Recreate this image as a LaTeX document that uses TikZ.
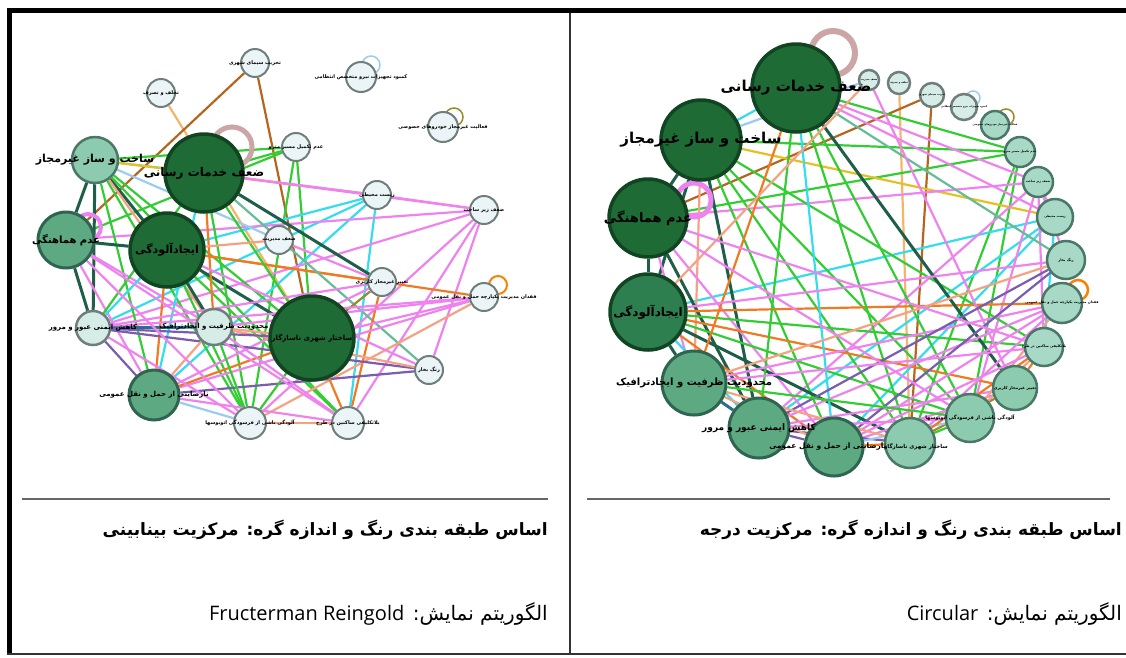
\documentclass[tikz,border=0pt]{standalone}
\usepackage{fontspec}
\usepackage{xcolor}
\usepackage{tikz}
\usetikzlibrary{backgrounds}
\TeXXeTstate=1
\newfontfamily\arabicfont[Script=Arabic]{DejaVu Sans}
\newfontfamily\latinfont{Open Sans}
\newcommand{\fa}[1]{{\arabicfont\bfseries\beginR #1\endR}}
\newcommand{\fs}[1]{\fontsize{#1}{#1}\selectfont}
\definecolor{darkfill}{HTML}{1E6B36}
\definecolor{darkline}{HTML}{114522}
\definecolor{dmidfill}{HTML}{2E7F4F}
\definecolor{midfill}{HTML}{5DAA82}
\definecolor{midline}{HTML}{2F6550}
\definecolor{lightfill}{HTML}{8DCBAF}
\definecolor{lightline}{HTML}{4A7768}
\definecolor{mintfill}{HTML}{A8D9C6}
\definecolor{palefill}{HTML}{D5ECE7}
\definecolor{whitefill}{HTML}{EBF5F7}
\definecolor{paleline}{HTML}{6F7E7A}
\definecolor{cpink}{HTML}{EE82EE}
\definecolor{cgreen}{HTML}{33CC33}
\definecolor{ccyan}{HTML}{33DDEE}
\definecolor{csalmon}{HTML}{F4A282}
\definecolor{corange}{HTML}{F07A22}
\definecolor{clorange}{HTML}{F5B46B}
\definecolor{cbrown}{HTML}{B5651D}
\definecolor{cdark}{HTML}{1F5F4A}
\definecolor{cpurple}{HTML}{7A5CB0}
\definecolor{cblue}{HTML}{99CCEE}
\definecolor{cteal}{HTML}{66BB99}
\definecolor{cyellow}{HTML}{E6C020}
\definecolor{colive}{HTML}{9A8A2A}
\definecolor{cdblue}{HTML}{2A6F8F}

\begin{document}
\begin{tikzpicture}[x=1pt,y=-1pt,
  gnode/.style={circle,inner sep=0pt,line width=2.5pt},
  ndark/.style={gnode,fill=darkfill,draw=darkline,line width=3.5pt},
  ndmid/.style={gnode,fill=dmidfill,draw=darkline,line width=3.5pt},
  nmid/.style={gnode,fill=midfill,draw=midline,line width=3pt},
  nlight/.style={gnode,fill=lightfill,draw=lightline},
  nmint/.style={gnode,fill=mintfill,draw=lightline},
  npale/.style={gnode,fill=palefill,draw=paleline},
  nwhite/.style={gnode,fill=whitefill,draw=paleline,line width=2pt},
  lbl/.style={inner sep=0pt,font=\fs{#1}},
  edge/.style={line width=2.2pt},
  epink/.style={edge,cpink}, egreen/.style={edge,cgreen},
  ecyan/.style={edge,ccyan}, esalmon/.style={edge,csalmon},
  eorange/.style={edge,corange}, elorange/.style={edge,clorange},
  ebrown/.style={edge,cbrown}, edark/.style={edge,cdark,line width=3pt},
  epurple/.style={edge,cpurple}, eblue/.style={edge,cblue},
  eteal/.style={edge,cteal}, eyellow/.style={edge,cyellow},
  eolive/.style={edge,colive}, edblue/.style={edge,cdblue,line width=3pt},
  eloop/.style={line width=#1}]
\useasboundingbox (0,0) rectangle (1126,657);
\fill[black] (7,8) rectangle (1126,13);
\fill[black] (7,8) rectangle (12,655);
\draw[line width=1.5pt,black!80] (7,654) -- (1126,654);
\draw[line width=2pt,black!80] (570,13) -- (570,654);
\draw[line width=2pt,black!60] (22,499) -- (548,499);
\draw[line width=2pt,black!60] (587,499) -- (1110,499);

\node[ndark,minimum size=78] (lA) at (204,173) {};
\node[nlight,minimum size=46] (lB) at (95,160) {};
\node[nmid,minimum size=56] (lC) at (66,240) {};
\node[ndark,minimum size=74] (lD) at (167,250) {};
\node[npale,minimum size=34] (lE) at (93,328) {};
\node[npale,minimum size=36] (lF) at (214,327) {};
\node[ndark,minimum size=84] (lG) at (312,338) {};
\node[nmid,minimum size=50] (lH) at (154,395) {};
\node[nwhite,minimum size=32] (lI) at (250,423) {};
\node[nwhite,minimum size=32] (lJ) at (348,423) {};
\node[nwhite,minimum size=28] (lK) at (429,370) {};
\node[nwhite,minimum size=28] (lL) at (382,282) {};
\node[nwhite,minimum size=28] (lM) at (484,297) {};
\node[nwhite,minimum size=28] (lN) at (484,210) {};
\node[nwhite,minimum size=28] (lO) at (377,195) {};
\node[nwhite,minimum size=28] (lP) at (279,240) {};
\node[nwhite,minimum size=28] (lQ) at (296,147) {};
\node[nwhite,minimum size=28] (lR) at (161,93) {};
\node[nwhite,minimum size=28] (lS) at (255,63) {};
\node[nwhite,minimum size=30] (lT) at (361,77) {};
\node[nwhite,minimum size=30] (lU) at (443,127) {};

\node[ndark,minimum size=88] (rA) at (796,88) {};
\node[ndark,minimum size=80] (rB) at (701,140) {};
\node[ndark,minimum size=78] (rC) at (648,218) {};
\node[ndmid,minimum size=76] (rD) at (648,312) {};
\node[nmid,minimum size=64] (rF) at (694,383) {};
\node[nmid,minimum size=60] (rE) at (759,428) {};
\node[nmid,minimum size=58] (rH) at (834,447) {};
\node[nlight,minimum size=50] (rG) at (910,443) {};
\node[nlight,minimum size=48] (rI) at (970,418) {};
\node[nlight,minimum size=44] (rL) at (1015,388) {};
\node[nmint,minimum size=38] (rJ) at (1044,347) {};
\node[nmint,minimum size=40] (rM) at (1062,303) {};
\node[nmint,minimum size=38] (rK) at (1066,260) {};
\node[nmint,minimum size=36] (rO) at (1055,217) {};
\node[nmint,minimum size=30] (rN) at (1038,182) {};
\node[nmint,minimum size=30] (rQ) at (1020,152) {};
\node[nmint,minimum size=28] (rU) at (995,125) {};
\node[npale,minimum size=26] (rT) at (964,107) {};
\node[npale,minimum size=24] (rS) at (932,95) {};
\node[npale,minimum size=22] (rR) at (899,83) {};
\node[npale,minimum size=20] (rP) at (869,80) {};

\begin{scope}[on background layer]
\foreach \g in {l,r} {
  \foreach \a/\b/\c in {R/G/elorange, S/C/ebrown, S/G/ebrown, B/A/ecyan,
    B/Q/egreen, A/Q/egreen, C/Q/egreen, Q/G/egreen, Q/I/egreen, B/O/eyellow,
    A/O/epink, A/N/epink, O/N/epink, O/D/ecyan, O/H/ecyan, O/J/ecyan,
    O/E/ecyan, N/C/epink, N/K/epink, N/J/epink, N/I/epink, N/E/epink,
    B/C/edark, B/D/edark, B/E/edark, B/H/egreen, B/I/egreen, B/G/egreen,
    B/F/esalmon, B/J/egreen, B/P/eblue, C/D/edark, C/E/edark, C/H/epink,
    C/F/epink, D/L/eorange, D/M/eorange, D/G/edark, D/F/edark, D/E/ecyan,
    D/H/eorange, D/I/egreen, D/J/egreen, A/G/egreen, A/F/eorange, A/H/ecyan,
    A/I/egreen, A/L/edark, A/K/eteal, A/E/egreen, P/L/epink, P/D/esalmon,
    L/G/eolive, L/J/eorange, L/E/epink, L/H/epink, M/H/epink, M/F/epink,
    M/E/epink, M/G/epink, M/I/esalmon, K/E/epurple, K/H/epurple, K/F/esalmon,
    E/F/edblue, E/G/epurple, E/H/epurple, H/I/eblue, H/G/eorange, H/J/epink,
    F/H/esalmon, F/G/esalmon, F/I/egreen, G/J/eorange, G/I/egreen, I/J/esalmon,
    C/I/epink, C/J/epink, D/K/epink, F/J/epink, E/I/epink} {
    \draw[\c] (\g\a) -- (\g\b);
  }
}
\draw[eloop=5pt,draw=pink!60!gray] ([shift={(28,-26)}]lA.center) circle (20);
\draw[eloop=4pt,draw=cpink] ([shift={(22,-13)}]lC.center) circle (13);
\draw[eloop=1.5pt,draw=cblue] ([shift={(10,-12)}]lT.center) circle (9);
\draw[eloop=1.5pt,draw=colive] ([shift={(11,-10)}]lU.center) circle (9);
\draw[eloop=2pt,draw=orange] ([shift={(14,-12)}]lM.center) circle (9);
\draw[eloop=6pt,draw=pink!60!gray] ([shift={(37,-35)}]rA.center) circle (22);
\draw[eloop=5pt,draw=cpink] ([shift={(46,-18)}]rC.center) circle (17);
\draw[eloop=1.5pt,draw=cblue] ([shift={(9,-9)}]rT.center) circle (7);
\draw[eloop=1.5pt,draw=colive] ([shift={(11,-8)}]rU.center) circle (8);
\draw[eloop=2.5pt,draw=orange] ([shift={(16,-13)}]rM.center) circle (10);
\end{scope}

\node[lbl=12] (tlA) at (lA) {\fa{ضعف خدمات رسانی}};
\node[lbl=11] (tlB) at (lB) {\fa{ساخت و ساز غیرمجاز}};
\node[lbl=10] (tlC) at (lC) {\fa{عدم هماهنگی}};
\node[lbl=11] (tlD) at (lD) {\fa{ایجادآلودگی}};
\node[lbl=7] (tlE) at (lE) {\fa{کاهش ایمنی عبور و مرور}};
\node[lbl=7] (tlF) at (lF) {\fa{محدودیت ظرفیت و ایجادترافیک}};
\node[lbl=7] (tlG) at (lG) {\fa{ساختار شهری ناسازگار}};
\node[lbl=7] (tlH) at (lH) {\fa{نارضایتی از حمل و نقل عمومی}};
\node[lbl=5] (tlI) at (lI) {\fa{آلودگی ناشی از فرسودگی اتوبوسها}};
\node[lbl=5] (tlJ) at (lJ) {\fa{بلاتکلیفی ساکنین در طرح}};
\node[lbl=5] (tlK) at (lK) {\fa{رنگ بخار}};
\node[lbl=5] (tlL) at (lL) {\fa{تغییر غیرمجاز کاربری}};
\node[lbl=5] (tlM) at (lM) {\fa{فقدان مدیریت یکپارچه حمل و نقل عمومی}};
\node[lbl=5] (tlN) at (lN) {\fa{ضعف زیر ساخت}};
\node[lbl=5] (tlO) at (lO) {\fa{زیست محیطی}};
\node[lbl=5] (tlP) at (lP) {\fa{ضعف مدیریت}};
\node[lbl=5] (tlQ) at (lQ) {\fa{عدم تکمیل مسیر مترو}};
\node[lbl=5] (tlR) at (lR) {\fa{تخلف و تصرف}};
\node[lbl=5] (tlS) at (lS) {\fa{تخریب سیمای شهری}};
\node[lbl=5] (tlT) at (lT) {\fa{کمبود تجهیزات نیرو متخصص انتظامی}};
\node[lbl=5] (tlU) at (lU) {\fa{فعالیت غیرمجاز خودروهای خصوصی}};

\node[lbl=15] (trA) at (rA) {\fa{ضعف خدمات رسانی}};
\node[lbl=15] (trB) at (rB) {\fa{ساخت و ساز غیرمجاز}};
\node[lbl=13] (trC) at (rC) {\fa{عدم هماهنگی}};
\node[lbl=12] (trD) at (rD) {\fa{ایجادآلودگی}};
\node[lbl=10] (trF) at (rF) {\fa{محدودیت ظرفیت و ایجادترافیک}};
\node[lbl=9] (trE) at (rE) {\fa{کاهش ایمنی عبور و مرور}};
\node[lbl=7.5] (trH) at ([xshift=-6]rH.center) {\fa{نارضایتی از حمل و نقل عمومی}};
\node[lbl=5.5] (trG) at ([xshift=6,yshift=-4]rG.center) {\fa{ساختار شهری ناسازگار}};
\node[lbl=5] (trI) at (rI) {\fa{آلودگی ناشی از فرسودگی اتوبوسها}};
\node[lbl=4] (trL) at (rL) {\fa{تغییر غیرمجاز کاربری}};
\node[lbl=3.5] (trJ) at (rJ) {\fa{بلاتکلیفی ساکنین در طرح}};
\node[lbl=3.5] (trM) at (rM) {\fa{فقدان مدیریت یکپارچه حمل و نقل عمومی}};
\node[lbl=3.5] (trK) at (rK) {\fa{رنگ بخار}};
\node[lbl=3] (trO) at (rO) {\fa{زیست محیطی}};
\node[lbl=3] (trN) at (rN) {\fa{ضعف زیر ساخت}};
\node[lbl=3] (trQ) at (rQ) {\fa{عدم تکمیل مسیر مترو}};
\node[lbl=2.5] (trU) at (rU) {\fa{فعالیت غیرمجاز خودروهای خصوصی}};
\node[lbl=2.5] (trT) at (rT) {\fa{کمبود تجهیزات نیرو متخصص انتظامی}};
\node[lbl=2.5] (trS) at (rS) {\fa{تخریب سیمای شهری}};
\node[lbl=2.5] (trR) at (rR) {\fa{تخلف و تصرف}};
\node[lbl=2.5] (trP) at (rP) {\fa{ضعف مدیریت}};

\node[lbl=17,anchor=east] (capL1) at (548,530) {\fa{اساس طبقه بندی رنگ و اندازه گره: مرکزیت بینابینی}};
\node[lbl=20,anchor=east] (capL2) at (548,614) {{\arabicfont\beginR الگوریتم نمایش: \beginL{\latinfont Fructerman Reingold}\endL\endR}};
\node[lbl=17,anchor=east] (capR1) at (1122,530) {\fa{اساس طبقه بندی رنگ و اندازه گره: مرکزیت درجه}};
\node[lbl=20,anchor=east] (capR2) at (1122,614) {{\arabicfont\beginR الگوریتم نمایش: \beginL{\latinfont Circular}\endL\endR}};
\end{tikzpicture}
\end{document}
